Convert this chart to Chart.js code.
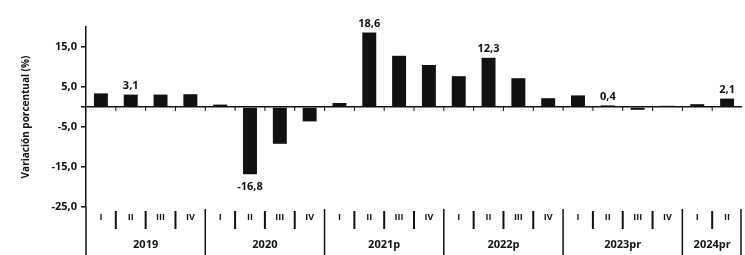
<!DOCTYPE html>
<html>
<head>
<meta charset="utf-8">
<script src="https://cdn.jsdelivr.net/npm/chart.js@4.4.1/dist/chart.umd.min.js"></script>
<style>
  html, body { margin: 0; padding: 0; background: #fff; }
  #wrap { width: 745px; height: 255px; }
</style>
</head>
<body>
<div id="wrap"><canvas id="pibChart"></canvas></div>
<script>
// Variación porcentual trimestral, 2019 - 2024pr
const years = ['2019', '2020', '2021p', '2022p', '2023pr', '2024pr'];
const quarters = [
    ['I', 'II', 'III', 'IV'],
    ['I', 'II', 'III', 'IV'],
    ['I', 'II', 'III', 'IV'],
    ['I', 'II', 'III', 'IV'],
    ['I', 'II', 'III', 'IV'],
    ['I', 'II']
];
const values = [3.4, 3.1, 3.1, 3.2, 0.6, -16.8, -9.2, -3.6, 1.0, 18.6, 12.8, 10.5,
                7.7, 12.3, 7.2, 2.2, 2.9, 0.4, -0.7, 0.3, 0.7, 2.1];
const labelledBars = [1, 5, 9, 13, 17, 21]; // bars with a value printed
const yTicks = [15, 5, 0, -5, -15, -25];

const fmt = v => v.toFixed(1).replace('.', ',');
const FONT = '"Open Sans", "Liberation Sans", sans-serif';

// one label per bar, and the year it belongs to
const labels = [];
const yearOf = [];
quarters.forEach((qs, i) => qs.forEach(q => { labels.push(q); yearOf.push(i); }));

// draws the table under the chart, the zero-line ticks and the bar values
const tablePlugin = {
    id: 'table',
    afterDraw(chart) {
        const ctx = chart.ctx;
        const x = chart.scales.x;
        const y = chart.scales.y;
        const area = chart.chartArea;
        const H = chart.height;
        const y0 = y.getPixelForValue(0);
        const n = labels.length;
        const edge = i => (x.getPixelForValue(i) + x.getPixelForValue(i + 1)) / 2;

        ctx.save();
        ctx.strokeStyle = '#111';

        // y axis continues through the table
        ctx.lineWidth = 1.5;
        ctx.beginPath();
        ctx.moveTo(area.left, area.bottom);
        ctx.lineTo(area.left, H);
        ctx.stroke();

        // small marks under the zero line
        ctx.lineWidth = 1;
        for (let i = 0; i < n - 1; i++) {
            ctx.beginPath();
            ctx.moveTo(edge(i), y0);
            ctx.lineTo(edge(i), y0 + 4);
            ctx.stroke();
        }

        // separators in the table
        for (let i = 0; i < n - 1; i++) {
            const yearEnd = yearOf[i] !== yearOf[i + 1];
            ctx.lineWidth = yearEnd ? 1.5 : 2;
            ctx.beginPath();
            ctx.moveTo(edge(i), yearEnd ? area.bottom + 2 : area.bottom + 4);
            ctx.lineTo(edge(i), yearEnd ? H : area.bottom + 22);
            ctx.stroke();
        }
        ctx.lineWidth = 1.5;
        ctx.beginPath();
        ctx.moveTo(area.right - 1, area.bottom + 2);
        ctx.lineTo(area.right - 1, H);
        ctx.stroke();

        // year labels
        ctx.fillStyle = '#111';
        ctx.font = 'bold 11px ' + FONT;
        ctx.textAlign = 'center';
        ctx.textBaseline = 'middle';
        years.forEach((yr, k) => {
            const idx = yearOf.map((v, i) => v === k ? i : -1).filter(i => i >= 0);
            const cx = (x.getPixelForValue(idx[0]) + x.getPixelForValue(idx[idx.length - 1])) / 2;
            ctx.fillText(yr, cx, 245);
        });

        // values on selected bars
        const bars = chart.getDatasetMeta(0).data;
        labelledBars.forEach(i => {
            const bar = bars[i];
            const v = values[i];
            if (v >= 0) {
                ctx.textBaseline = 'bottom';
                ctx.fillText(fmt(v), bar.x, bar.y - 3);
            } else {
                ctx.textBaseline = 'top';
                ctx.fillText(fmt(v), bar.x, bar.y + 7);
            }
        });
        ctx.restore();
    }
};

new Chart(document.getElementById('pibChart'), {
    type: 'bar',
    data: {
        labels: labels,
        datasets: [{
            data: values,
            backgroundColor: '#111',
            barPercentage: 0.9,
            categoryPercentage: 0.52
        }]
    },
    options: {
        responsive: true,
        maintainAspectRatio: false,
        animation: false,
        layout: { padding: { top: 27, right: 3, left: 0, bottom: 0 } },
        plugins: {
            legend: { display: false },
            tooltip: { enabled: false }
        },
        scales: {
            x: {
                grid: { display: false, drawTicks: false },
                border: { display: false },
                ticks: {
                    autoSkip: false,
                    maxRotation: 0,
                    padding: 5,
                    color: '#111',
                    font: { family: FONT, size: 9, weight: 'bold' }
                },
                afterFit: scale => { scale.height = 48; }
            },
            y: {
                min: -25,
                max: 20,
                afterBuildTicks: axis => { axis.ticks = yTicks.map(v => ({ value: v })); },
                afterFit: scale => { scale.width = 86; },
                border: { display: true, color: '#111', width: 1.5 },
                grid: {
                    color: c => (c.tick && c.tick.value === 0) ? '#111' : 'rgba(0,0,0,0)',
                    lineWidth: 1.5,
                    tickColor: '#111',
                    tickLength: 5
                },
                ticks: {
                    color: '#111',
                    padding: 4,
                    font: { family: FONT, size: 11, weight: 'bold' },
                    callback: v => v === 0 ? '' : fmt(v)
                },
                title: {
                    display: true,
                    text: 'Variación porcentual (%)',
                    color: '#111',
                    font: { family: FONT, size: 10, weight: 'bold' },
                    padding: { top: 20, bottom: 0 }
                }
            }
        }
    },
    plugins: [tablePlugin]
});
</script>
</body>
</html>
